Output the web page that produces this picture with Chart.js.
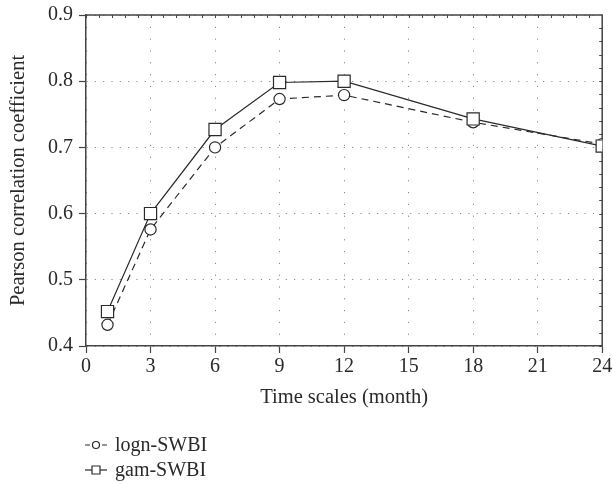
<!DOCTYPE html>
<html>
<head>
<meta charset="utf-8">
<script src="https://cdn.jsdelivr.net/npm/chart.js@4/dist/chart.umd.min.js"></script>
<style>
  html, body { margin: 0; padding: 0; background: #fff; }
  #wrap { width: 612px; height: 484px; position: relative; }
</style>
</head>
<body>
<div id="wrap"><canvas id="c" width="612" height="484"></canvas></div>
<script>
// Time scales in months and correlation of each drought index
const months = [1, 3, 6, 9, 12, 18, 24];
const lognSWBI = [0.432, 0.576, 0.700, 0.773, 0.779, 0.738, 0.705];
const gamSWBI = [0.452, 0.600, 0.727, 0.798, 0.800, 0.743, 0.702];
const seriesNames = ['logn-SWBI', 'gam-SWBI'];
const xTicks = [0, 3, 6, 9, 12, 15, 18, 21, 24];
const yTicks = [0.4, 0.5, 0.6, 0.7, 0.8, 0.9];
const xTitle = 'Time scales (month)';
const yTitle = 'Pearson correlation coefficient';

const FONT = "'Liberation Serif', 'DejaVu Serif', serif";
const INK = '#2a2a2a';
const AXIS = '#444';

const toPoints = (xs, ys) => xs.map((x, i) => ({ x: x, y: ys[i] }));

// Closed frame with short inner minor ticks on the top and right edges
const framePlugin = {
  id: 'frame',
  beforeDatasetsDraw(chart) {
    const { ctx, chartArea: a, scales } = chart;
    ctx.save();
    ctx.strokeStyle = AXIS;
    ctx.lineWidth = 1.5;
    ctx.beginPath();
    ctx.moveTo(a.left, a.top);
    ctx.lineTo(a.right, a.top);
    ctx.lineTo(a.right, a.bottom);
    ctx.stroke();
    ctx.lineWidth = 1;
    ctx.beginPath();
    for (let i = 0; i < xTicks.length - 1; i++) {
      const step = (xTicks[i + 1] - xTicks[i]) / 5;
      for (let k = 0; k < 5; k++) {
        const px = Math.round(scales.x.getPixelForValue(xTicks[i] + k * step)) + 0.5;
        ctx.moveTo(px, a.top);
        ctx.lineTo(px, a.top + 3);
      }
    }
    for (let i = 0; i < yTicks.length - 1; i++) {
      const step = (yTicks[i + 1] - yTicks[i]) / 5;
      for (let k = 0; k < 5; k++) {
        const py = Math.round(scales.y.getPixelForValue(yTicks[i] + k * step)) + 0.5;
        ctx.moveTo(a.right, py);
        ctx.lineTo(a.right - 3, py);
      }
    }
    ctx.stroke();
    ctx.restore();
  }
};

// Legend stacked under the axis title, line sample with marker then name
const legendPlugin = {
  id: 'stackLegend',
  afterDraw(chart) {
    const { ctx } = chart;
    const order = [1, 0];
    const x0 = 85, x1 = 107, tx = 115, y0 = 445, dy = 25;
    ctx.save();
    ctx.font = '20px ' + FONT;
    ctx.textBaseline = 'middle';
    ctx.fillStyle = INK;
    order.forEach((di, row) => {
      const ds = chart.data.datasets[di];
      const y = y0 + row * dy;
      const cx = (x0 + x1) / 2;
      const dashed = ds.borderDash && ds.borderDash.length;
      ctx.strokeStyle = INK;
      ctx.lineWidth = 1.2;
      ctx.beginPath();
      if (dashed) {
        ctx.moveTo(x0, y); ctx.lineTo(x0 + 5, y);
        ctx.moveTo(x1 - 5, y); ctx.lineTo(x1, y);
      } else {
        ctx.moveTo(x0, y); ctx.lineTo(x1, y);
      }
      ctx.stroke();
      ctx.fillStyle = '#fff';
      ctx.beginPath();
      if (ds.pointStyle === 'rect') {
        ctx.rect(cx - 4, y - 4, 8, 8);
      } else {
        ctx.arc(cx, y, 3.5, 0, Math.PI * 2);
      }
      ctx.fill();
      ctx.stroke();
      ctx.fillStyle = INK;
      ctx.fillText(ds.label, tx, y + 1);
    });
    ctx.restore();
  }
};

new Chart(document.getElementById('c'), {
  type: 'line',
  data: {
    datasets: [
      {
        label: seriesNames[1],
        data: toPoints(months, gamSWBI),
        borderColor: INK,
        borderWidth: 1.2,
        pointStyle: 'rect',
        pointRadius: 8.6,
        pointBorderWidth: 1.2,
        pointBorderColor: INK,
        pointBackgroundColor: '#fff',
        tension: 0
      },
      {
        label: seriesNames[0],
        data: toPoints(months, lognSWBI),
        borderColor: INK,
        borderWidth: 1.2,
        borderDash: [7, 5],
        pointStyle: 'circle',
        pointRadius: 5.6,
        pointBorderWidth: 1.2,
        pointBorderColor: INK,
        pointBackgroundColor: '#fff',
        tension: 0
      }
    ]
  },
  options: {
    responsive: false,
    animation: false,
    layout: { padding: { top: 15, right: 9, bottom: 68, left: 0 } },
    plugins: { legend: { display: false }, tooltip: { enabled: false } },
    scales: {
      x: {
        type: 'linear',
        min: xTicks[0],
        max: xTicks[xTicks.length - 1],
        afterBuildTicks: s => { s.ticks = xTicks.map(v => ({ value: v })); },
        afterFit: s => { s.height = 70; s.paddingLeft = 0; s.paddingRight = 0; },
        ticks: {
          color: INK,
          font: { family: FONT, size: 20 },
          padding: 2,
          maxRotation: 0,
          callback: v => String(v)
        },
        grid: {
          color: '#8a8a8a',
          lineWidth: 1,
          drawTicks: true,
          tickLength: 7,
          tickColor: AXIS,
          tickWidth: 1.2,
          tickBorderDash: []
        },
        border: { display: true, color: AXIS, width: 1.5, dash: [1.2, 10.6] },
        title: {
          display: true,
          text: xTitle,
          color: INK,
          font: { family: FONT, size: 20.5 },
          padding: { top: 0, bottom: 6 }
        }
      },
      y: {
        type: 'linear',
        min: yTicks[0],
        max: yTicks[yTicks.length - 1],
        afterBuildTicks: s => { s.ticks = yTicks.map(v => ({ value: v })); },
        afterFit: s => { s.width = 86; s.paddingTop = 0; s.paddingBottom = 0; },
        ticks: {
          color: INK,
          font: { family: FONT, size: 20 },
          padding: 6,
          callback: v => Number(v).toFixed(1)
        },
        grid: {
          color: '#8a8a8a',
          lineWidth: 1,
          drawTicks: true,
          tickLength: 7,
          tickColor: AXIS,
          tickWidth: 1.2,
          tickBorderDash: []
        },
        border: { display: true, color: AXIS, width: 1.5, dash: [1.2, 7.1] },
        title: {
          display: true,
          text: yTitle,
          color: INK,
          font: { family: FONT, size: 20.5 },
          padding: { top: 6, bottom: 0 }
        }
      }
    }
  },
  plugins: [framePlugin, legendPlugin]
});
</script>
</body>
</html>
